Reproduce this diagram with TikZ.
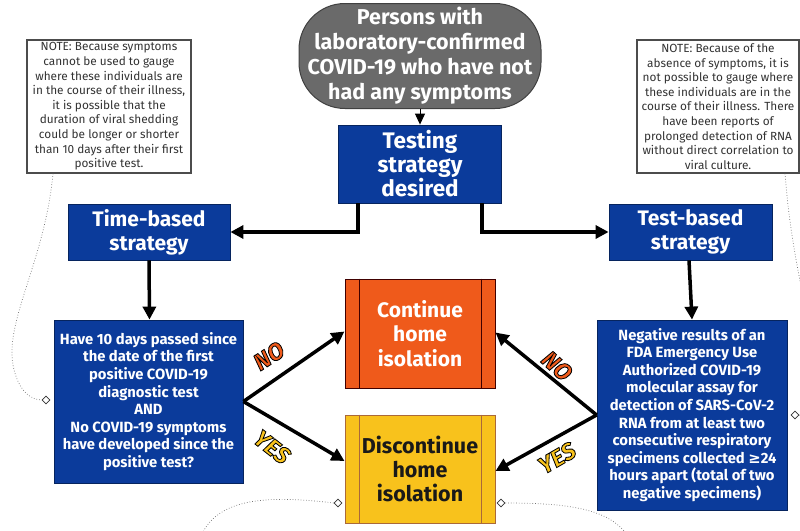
\documentclass[tikz,border=0pt]{standalone}
\usepackage{fontspec}
\setmainfont{Fira Sans}
\newfontfamily\symf{DejaVu Sans}
\newfontfamily\labfont[FakeBold=3.5]{Fira Sans Bold Italic}
\usetikzlibrary{arrows.meta,shapes.geometric}
\definecolor{cdcblue}{HTML}{0B3B9B}
\definecolor{cdcblueline}{HTML}{06245E}
\definecolor{cdcorange}{HTML}{EF5A1B}
\definecolor{cdcyellow}{HTML}{F8C21C}
\definecolor{ovalgray}{HTML}{6A6A6A}
\definecolor{notetext}{HTML}{333333}
\newcommand\orangeoutline[1]{\special{pdf:bcolor [0.937 0.353 0.106] [0 0 0]}#1\special{pdf:ecolor}}
\newcommand\yellowoutline[1]{\special{pdf:bcolor [0.973 0.761 0.110] [0 0 0]}#1\special{pdf:ecolor}}
\tikzset{
  bluebox/.style={draw=cdcblueline, line width=0.8pt, fill=cdcblue, text=white, align=center, inner sep=0pt},
  smalltext/.style={font=\bfseries\fontsize{14.8}{17.6}\selectfont},
  notebox/.style={draw=black!70, line width=1.1pt, fill=white, text=notetext, align=center, inner sep=0pt,
    font=\fontsize{11.8}{14.6}\selectfont},
  arr/.style={line width=3.5pt, line join=miter, -{Triangle[length=13pt,width=13pt]}},
  dotline/.style={draw=black!55, dotted, line width=0.7pt},
  dmd/.style={diamond, draw=black!80, fill=white, line width=0.8pt, inner sep=0pt, minimum size=8pt},
  lab/.style={font=\labfont\fontsize{23.5}{23.5}\selectfont, inner sep=0pt}
}
\begin{document}
\begin{tikzpicture}[x=1pt,y=-1pt]
\useasboundingbox (0,0) rectangle (800,530);
\clip (0,0) rectangle (800,530);
\fill[white] (0,0) rectangle (800,530);

% start oval
\node[draw=black!75, line width=1pt, fill=ovalgray, rounded corners=46pt, text=white, align=center,
  minimum width=242pt, minimum height=105pt, inner sep=0pt,
  font=\bfseries\fontsize{21.5}{25}\selectfont] (start) at (420,56)
  {Persons with\\laboratory-confirmed\\COVID-19 who have not\\had any symptoms};

\node[bluebox, font=\bfseries\fontsize{22.5}{24}\selectfont, minimum width=163pt, minimum height=78pt] (testing) at (420,164)
  {Testing\\strategy\\desired};

\node[bluebox, font=\bfseries\fontsize{21}{24}\selectfont, minimum width=162pt, minimum height=56pt] (time) at (149,232)
  {Time-based\\strategy};
\node[bluebox, font=\bfseries\fontsize{21}{24}\selectfont, minimum width=163pt, minimum height=56pt] (testb) at (690.5,232)
  {Test-based\\strategy};

\node[bluebox, smalltext, minimum width=189pt, minimum height=163pt] (qleft) at (148.5,401.5)
  {Have 10 days passed since\\the date of the first\\positive COVID-19\\diagnostic test\\AND\\No COVID-19 symptoms\\have developed since the\\positive test?};
\node[bluebox, smalltext, minimum width=190pt, minimum height=190pt] (qright) at (692,415)
  {Negative results of an\\FDA Emergency Use\\Authorized COVID-19\\molecular assay for\\detection of SARS-CoV-2\\RNA from at least two\\consecutive respiratory\\specimens collected {\symf\bfseries ≥}24\\hours apart (total of two\\negative specimens)};

\node[draw=black!75!red, line width=1pt, fill=cdcorange, text=white, align=center, inner sep=0pt,
  minimum width=150pt, minimum height=109pt, font=\bfseries\fontsize{21}{24.5}\selectfont] (cont) at (420,333.5)
  {Continue\\home\\isolation};
\draw[draw=black!75!red, line width=1pt] ([xshift=15pt]cont.north west) -- ([xshift=15pt]cont.south west)
  ([xshift=-14pt]cont.north east) -- ([xshift=-14pt]cont.south east);

\node[draw=black!60!yellow!60!red, line width=1pt, fill=cdcyellow, text=black!90, align=center, inner sep=0pt,
  minimum width=150pt, minimum height=108pt, font=\bfseries\fontsize{21.5}{24}\selectfont] (disc) at (420,469)
  {Discontinue\\home\\isolation};
\draw[draw=black!60!yellow!60!red, line width=1pt] ([xshift=15pt]disc.north west) -- ([xshift=15pt]disc.south west)
  ([xshift=-14pt]disc.north east) -- ([xshift=-14pt]disc.south east);

% notes
\node[notebox, minimum width=164pt, minimum height=133pt] (noteL) at (109,106.5)
  {NOTE: Because symptoms\\cannot be used to gauge\\where these individuals are\\in the course of their illness,\\it is possible that the\\duration of viral shedding\\could be longer or shorter\\than 10 days after their first\\positive test.};
\node[notebox, minimum width=162pt, minimum height=133pt] (noteR) at (718,106.5)
  {NOTE: Because of the\\absence of symptoms, it is\\not possible to gauge where\\these individuals are in the\\course of their illness. There\\have been reports of\\prolonged detection of RNA\\without direct correlation to\\viral culture.};

% connectors
\draw[line width=1pt, -{Triangle[length=11pt,width=10pt]}] (start.south) -- (testing.north);
\draw[arr] ([xshift=-62pt]testing.south) |- (time.east);
\draw[arr] ([xshift=62pt]testing.south) |- (testb.west);
\draw[arr] (time.south) -- ([xshift=1pt]qleft.north);
\draw[arr] ([xshift=-1.5pt]testb.south) -- (qright.north);

\coordinate (cLin) at ([yshift=2pt]cont.west);
\coordinate (dLin) at ([yshift=8pt]disc.west);
\coordinate (cRin) at ([yshift=1pt]cont.east);
\coordinate (dRin) at ([yshift=-2pt]disc.east);
\draw[arr] (qleft.east) -- (cLin);
\draw[arr] (qleft.east) -- (dLin);
\draw[arr] (qright.west) -- (cRin);
\draw[arr] (qright.west) -- (dRin);

% labels
\node[lab, rotate=33] (noL) at (269,356) {\orangeoutline{NO}};
\node[lab, rotate=-38] (yesL) at (272,447) {\yellowoutline{YES}};
\node[lab, rotate=-42] (noR) at (557,366) {\orangeoutline{NO}};
\node[lab, rotate=30] (yesR) at (557,458) {\yellowoutline{YES}};

% dotted annotation links
\node[dmd] (dL) at (46,400) {};
\node[dmd] (dR) at (795,415) {};
\node[dmd] (dB1) at (338,503) {};
\node[dmd] (dB2) at (501,503) {};
\coordinate (offR) at (812,340);
\coordinate (offR2) at (812,420);
\coordinate (offB1) at (203,532);
\coordinate (offB2) at (625,532);

\draw[dotline] ([xshift=-56pt]noteL.south) .. controls (45,260) and (5,320) .. (13,365)
  .. controls (18,392) and (32,400) .. (dL.west);
\draw[dotline] ([xshift=67pt]noteR.south) .. controls (790,240) and (802,290) .. (offR);
\draw[dotline] (dR.east) -- (offR2);
\draw[dotline] (dB1.west) .. controls (275,496) and (222,496) .. (offB1);
\draw[dotline] (dB2.east) .. controls (565,503) and (605,508) .. (offB2);
\end{tikzpicture}
\end{document}
